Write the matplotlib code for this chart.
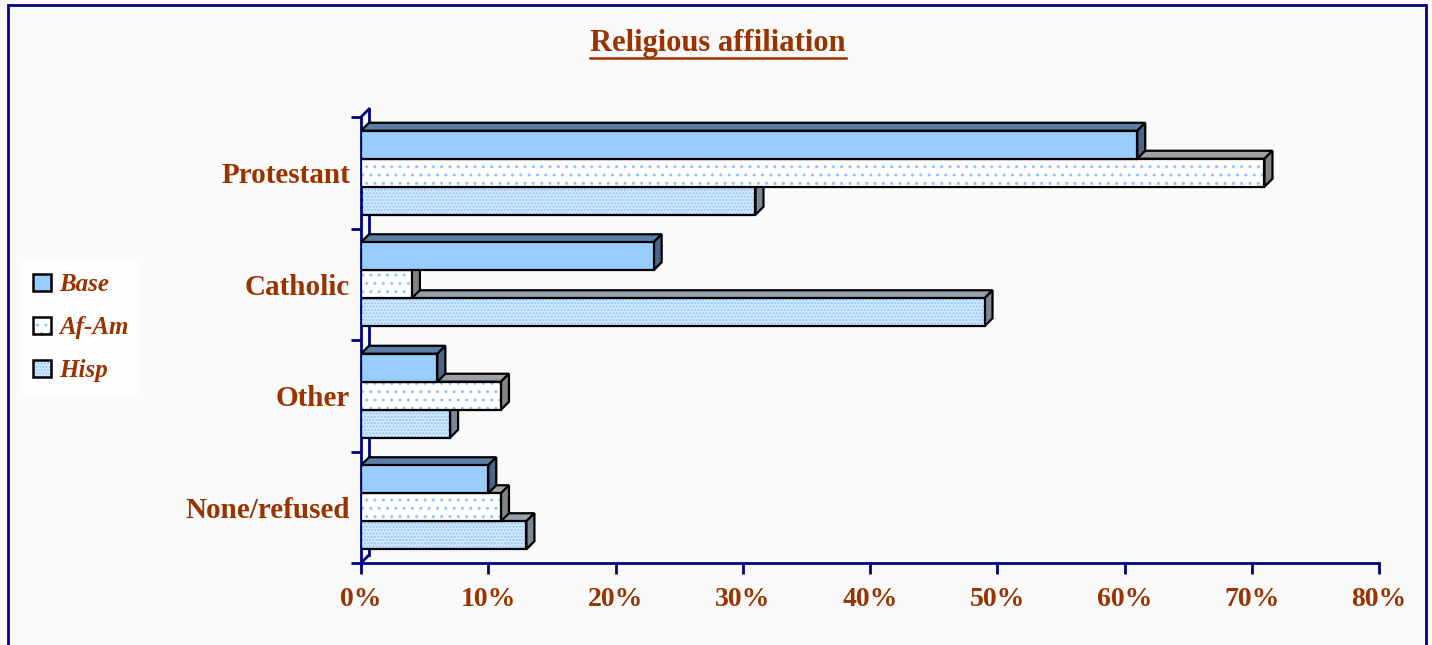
import matplotlib
matplotlib.use('Agg')
import matplotlib.pyplot as plt
from matplotlib.patches import Polygon, Patch, Rectangle
from matplotlib.lines import Line2D
from matplotlib.legend_handler import HandlerTuple

# data (percent)
categories = ['Protestant', 'Catholic', 'Other', 'None/refused']
series = ['Base', 'Af-Am', 'Hisp']
base = [61, 23, 6, 10]
af_am = [71, 4, 11, 11]
hisp = [31, 49, 7, 13]
x_ticks = [0, 10, 20, 30, 40, 50, 60, 70, 80]

BROWN = '#993300'
NAVY = '#000080'
plt.rcParams['font.family'] = ['Liberation Serif', 'DejaVu Serif']
plt.rcParams['hatch.color'] = '#8EC4FA'
plt.rcParams['hatch.linewidth'] = 1.0

# per-series style: face, hatch, top face, side face
styles = {
    'Base': ('#99CCFF', None, '#5B7FA6', '#4A6788'),
    'Af-Am': ('#FFFFFF', '..', '#A0A0A0', '#858585'),
    'Hisp': ('#D2E8FF', '.....', '#95A0AB', '#7D8893'),
}

fig = plt.figure(figsize=(14.32, 6.45), dpi=100)
fig.patch.set_facecolor('#FAFAFA')
ax = fig.add_axes([361 / 1432, 82 / 645, 1018 / 1432, 446 / 645])
ax.set_facecolor('none')

BAR_H = 0.251
DX = 8 * 80 / 1018      # depth in x data units
DY = 8 / 111.5          # depth in y data units

values = {'Base': base, 'Af-Am': af_am, 'Hisp': hisp}
offsets = {'Base': -BAR_H, 'Af-Am': 0.0, 'Hisp': BAR_H}

z = 2
for i, cat in enumerate(categories):
    for s in ['Hisp', 'Af-Am', 'Base']:
        v = values[s][i]
        face, hatch, top_c, side_c = styles[s]
        yc = i + 0.5 + offsets[s]
        y0 = yc - BAR_H / 2
        y1 = yc + BAR_H / 2
        top = Polygon([(0, y0), (v, y0), (v + DX, y0 - DY), (DX, y0 - DY)],
                      closed=True, facecolor=top_c, edgecolor='black', lw=1.6, zorder=z)
        side = Polygon([(v, y0), (v, y1), (v + DX, y1 - DY), (v + DX, y0 - DY)],
                       closed=True, facecolor=side_c, edgecolor='black', lw=1.6, zorder=z)
        ax.add_patch(top)
        ax.add_patch(side)
        ax.barh(yc, v, height=BAR_H, color=face, hatch=hatch, linewidth=0, zorder=z + 0.1)
        ax.barh(yc, v, height=BAR_H, fill=False, edgecolor='black', linewidth=1.6, zorder=z + 0.2)
        z += 1

ax.set_xlim(0, 80)
ax.set_ylim(4, 0)

# axes styling
for sp in ['top', 'right']:
    ax.spines[sp].set_visible(False)
for sp in ['left', 'bottom']:
    ax.spines[sp].set_color(NAVY)
    ax.spines[sp].set_linewidth(2)

ax.set_xticks(x_ticks)
ax.set_xticklabels([f'{t}%' for t in x_ticks])
ax.tick_params(axis='x', colors=NAVY, length=8, width=2, pad=9, labelsize=20, labelcolor=BROWN)
for lab in ax.get_xticklabels():
    lab.set_fontweight('bold')

ax.set_yticks([0, 1, 2, 3, 4])
ax.set_yticklabels([])
ax.set_yticks([i + 0.5 for i in range(len(categories))], minor=True)
ax.set_yticklabels(categories, minor=True)
ax.tick_params(axis='y', which='major', colors=NAVY, length=7, width=2)
ax.tick_params(axis='y', which='minor', length=0, pad=8, labelsize=21, labelcolor=BROWN)
for lab in ax.get_yticklabels(minor=True):
    lab.set_fontweight('bold')

# back wall of the 3D frame
ax.plot([DX, DX], [4 - DY, -DY], color=NAVY, lw=2, clip_on=False, zorder=1)
ax.plot([0, DX], [4, 4 - DY], color=NAVY, lw=2, clip_on=False, zorder=1)
ax.plot([0, DX], [0, -DY], color=NAVY, lw=2, clip_on=False, zorder=1)

# title
title = fig.text(718 / 1432, 1 - 44 / 645, 'Religious affiliation', ha='center', va='center',
                 fontsize=22, fontweight='bold', color=BROWN)

# legend
handles = []
for s in series:
    face, hatch, _, _ = styles[s]
    handles.append((Patch(facecolor=face, hatch=hatch, linewidth=0),
                    Patch(fill=False, edgecolor='black', linewidth=1.8)))
leg = fig.legend(handles, series, loc='upper left', bbox_to_anchor=(22 / 1432, 1 - 262 / 645),
                 handler_map={tuple: HandlerTuple(ndivide=1, pad=0)},
                 handlelength=0.7, handleheight=0.7, handletextpad=0.35, labelspacing=0.8,
                 frameon=True, fancybox=False, borderpad=0.45, borderaxespad=0,
                 prop={'size': 18, 'style': 'italic', 'weight': 'bold'})
leg.get_frame().set_facecolor('white')
leg.get_frame().set_edgecolor('none')
for t in leg.get_texts():
    t.set_color(BROWN)

# outer frame
fig.patches.append(Rectangle((8 / 1432, -0.2), 1418 / 1432, 1.2 - 5 / 645, transform=fig.transFigure,
                             fill=False, edgecolor=NAVY, lw=2, clip_on=False))

# underline the title
fig.canvas.draw()
bb = title.get_window_extent()
yline = (bb.y0 + 1) / fig.bbox.height
fig.add_artist(Line2D([bb.x0 / fig.bbox.width, bb.x1 / fig.bbox.width], [yline, yline],
                      transform=fig.transFigure, color=BROWN, lw=1.8))

fig.savefig('out.png', dpi=100, facecolor=fig.get_facecolor())
